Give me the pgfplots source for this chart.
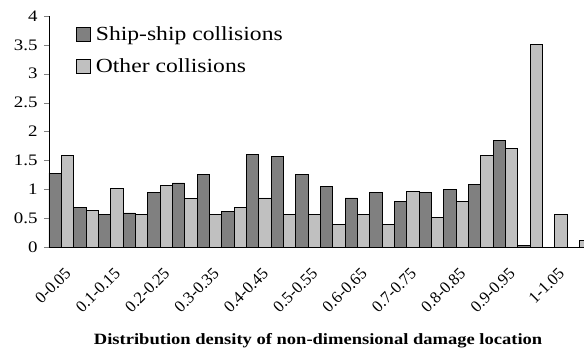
\documentclass[border=0pt]{standalone}
\usepackage{pgfplots}
\pgfplotsset{compat=1.18}
\usepackage{fontspec}
\setmainfont{Liberation Serif}
\newcommand\sx[1]{\scalebox{1.18}[1]{#1}}
\definecolor{shipdark}{RGB}{128,128,128}
\definecolor{otherlight}{RGB}{192,192,192}
\begin{document}
\begin{tikzpicture}
\path[use as bounding box] (-49pt,-107pt) rectangle (535pt,247pt);
\begin{axis}[
  at={(0pt,0pt)}, anchor=south west,
  scale only axis, width=535pt, height=231pt,
  xmin=0, xmax=21.686, ymin=0, ymax=4,
  axis x line*=bottom, axis y line*=left,
  tick align=outside, major tick length=5pt, minor tick length=5pt,
  ytick={0,0.5,...,4},
  yticklabels={\sx{0},\sx{0.5},\sx{1},\sx{1.5},\sx{2},\sx{2.5},\sx{3},\sx{3.5},\sx{4}},
  yticklabel style={font=\fontsize{16}{16}\selectfont, xshift=-3pt},
  xtick={0.5,2.5,...,20.5},
  xticklabels={0-0.05,0.1-0.15,0.2-0.25,0.3-0.35,0.4-0.45,0.5-0.55,0.6-0.65,0.7-0.75,0.8-0.85,0.9-0.95,1-1.05},
  x tick style={draw=none},
  minor xtick={0,1,...,21},
  xticklabel style={rotate=45, anchor=east, font=\fontsize{16.5}{16.5}\selectfont, yshift=-18pt, xshift=-5pt},
  xlabel={\sx{\textbf{Distribution density of non-dimensional damage location}}},
  xlabel style={font=\fontsize{15.7}{16}\selectfont, at={(rel axis cs:0.503,0)}, anchor=base, yshift=-97pt},
  legend style={at={(27pt,222pt)}, anchor=north west, draw=none, fill=none,
    font=\fontsize{20}{22}\selectfont, row sep=15pt, inner sep=0pt,
    nodes={inner sep=1pt},
    /tikz/every odd column/.append style={column sep=4pt}},
  legend cell align=left,
  legend image code/.code={\draw[#1, draw=black] (0pt,-7pt) rectangle (14pt,7pt);},
]
\addplot[ybar, bar width=0.5, bar shift=0pt, fill=shipdark, draw=black, line width=0.7pt] coordinates {
(0.25,1.28) (1.25,0.69) (2.25,0.56) (3.25,0.59) (4.25,0.95) (5.25,1.11)
(6.25,1.25) (7.25,0.62) (8.25,1.61) (9.25,1.57) (10.25,1.25) (11.25,1.05)
(12.25,0.85) (13.25,0.95) (14.25,0.79) (15.25,0.95) (16.25,0.99) (17.25,1.09)
(18.25,1.84) (19.25,0.03)
}; \addlegendentry{\sx{Ship-ship collisions}}
\addplot[ybar, bar width=0.5, bar shift=0pt, fill=otherlight, draw=black, line width=0.7pt] coordinates {
(0.75,1.58) (1.75,0.63) (2.75,1.01) (3.75,0.57) (4.75,1.07) (5.75,0.84)
(6.75,0.56) (7.75,0.68) (8.75,0.85) (9.75,0.56) (10.75,0.56) (11.75,0.39)
(12.75,0.56) (13.75,0.39) (14.75,0.96) (15.75,0.51) (16.75,0.79) (17.75,1.59)
(18.75,1.70) (19.75,3.51) (20.75,0.57) (21.75,0.12)
}; \addlegendentry{\sx{Other collisions}}
\end{axis}
\end{tikzpicture}
\end{document}
